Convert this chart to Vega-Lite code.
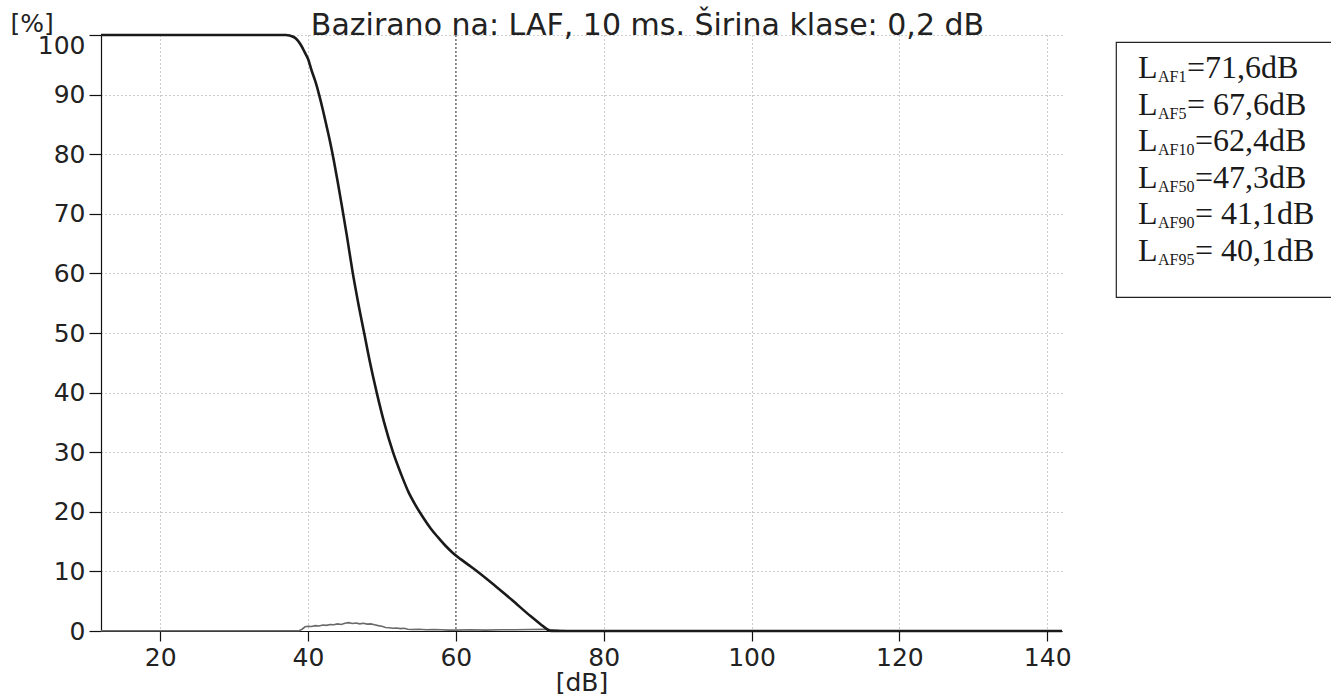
{
  "$schema": "https://vega.github.io/schema/vega-lite/v6.json",
  "padding": {"top": 11, "left": 10, "right": 0, "bottom": 0},
  "background": "white",
  "datasets": {
    "cum": [
      {"dB": 12, "pct": 100}, {"dB": 37, "pct": 100}, {"dB": 38, "pct": 99.7}, {"dB": 38.6, "pct": 99.1},
      {"dB": 39.1, "pct": 98.2}, {"dB": 39.6, "pct": 97}, {"dB": 40.0, "pct": 96}, {"dB": 40.5, "pct": 94},
      {"dB": 41.0, "pct": 92.2}, {"dB": 41.5, "pct": 90}, {"dB": 42.0, "pct": 87.5}, {"dB": 42.5, "pct": 84.8},
      {"dB": 43.0, "pct": 82}, {"dB": 43.5, "pct": 78.9}, {"dB": 44.0, "pct": 75.5}, {"dB": 44.6, "pct": 71.2},
      {"dB": 45.3, "pct": 66}, {"dB": 46.0, "pct": 60.5}, {"dB": 46.8, "pct": 55}, {"dB": 47.6, "pct": 50},
      {"dB": 48.4, "pct": 45}, {"dB": 49.3, "pct": 40}, {"dB": 50.3, "pct": 35}, {"dB": 51.5, "pct": 30},
      {"dB": 52.6, "pct": 26.3}, {"dB": 53.6, "pct": 23.3}, {"dB": 54.6, "pct": 21}, {"dB": 55.6, "pct": 19},
      {"dB": 56.6, "pct": 17.2}, {"dB": 57.6, "pct": 15.7}, {"dB": 58.6, "pct": 14.3}, {"dB": 59.6, "pct": 13.1},
      {"dB": 60.6, "pct": 12.1}, {"dB": 61.7, "pct": 11.1}, {"dB": 63.0, "pct": 9.9}, {"dB": 65.3, "pct": 7.6},
      {"dB": 67.6, "pct": 5.2}, {"dB": 70.1, "pct": 2.5}, {"dB": 71.5, "pct": 1.1}, {"dB": 72.4, "pct": 0.25},
      {"dB": 72.9, "pct": 0}, {"dB": 142, "pct": 0}
    ],
    "dist": [
      {"dB": 12, "pct": 0.05}, {"dB": 38.8, "pct": 0.05}, {"dB": 39.2, "pct": 0.3}, {"dB": 39.6, "pct": 0.7},
      {"dB": 40, "pct": 0.8}, {"dB": 40.5, "pct": 0.75}, {"dB": 41, "pct": 0.9}, {"dB": 41.5, "pct": 0.85},
      {"dB": 42, "pct": 1.0}, {"dB": 42.5, "pct": 0.95}, {"dB": 43, "pct": 1.1}, {"dB": 43.5, "pct": 1.05},
      {"dB": 44, "pct": 1.2}, {"dB": 44.5, "pct": 1.1}, {"dB": 45, "pct": 1.3}, {"dB": 45.5, "pct": 1.4},
      {"dB": 46, "pct": 1.25}, {"dB": 46.5, "pct": 1.35}, {"dB": 47, "pct": 1.2}, {"dB": 47.5, "pct": 1.3},
      {"dB": 48, "pct": 1.15}, {"dB": 48.5, "pct": 1.2}, {"dB": 49, "pct": 1.05}, {"dB": 49.5, "pct": 0.9},
      {"dB": 50, "pct": 0.8}, {"dB": 50.5, "pct": 0.6}, {"dB": 51, "pct": 0.55}, {"dB": 51.5, "pct": 0.45},
      {"dB": 52, "pct": 0.5}, {"dB": 52.5, "pct": 0.4}, {"dB": 53, "pct": 0.45}, {"dB": 53.5, "pct": 0.3},
      {"dB": 54, "pct": 0.25}, {"dB": 55, "pct": 0.3}, {"dB": 56, "pct": 0.2}, {"dB": 57, "pct": 0.25},
      {"dB": 58, "pct": 0.2}, {"dB": 59, "pct": 0.15}, {"dB": 60, "pct": 0.15}, {"dB": 62, "pct": 0.2},
      {"dB": 64, "pct": 0.15}, {"dB": 66, "pct": 0.2}, {"dB": 68, "pct": 0.2}, {"dB": 70, "pct": 0.25},
      {"dB": 72, "pct": 0.3}, {"dB": 73, "pct": 0.2}, {"dB": 74, "pct": 0.1}, {"dB": 75, "pct": 0.05},
      {"dB": 76, "pct": 0}, {"dB": 142, "pct": 0}
    ],
    "mark60": [{"dB": 60}],
    "stats": [
      {"row": 1, "base": "L", "sub": "AF1", "val": "=71,6dB"},
      {"row": 2, "base": "L", "sub": "AF5", "val": "= 67,6dB"},
      {"row": 3, "base": "L", "sub": "AF10", "val": "=62,4dB"},
      {"row": 4, "base": "L", "sub": "AF50", "val": "=47,3dB"},
      {"row": 5, "base": "L", "sub": "AF90", "val": "= 41,1dB"},
      {"row": 6, "base": "L", "sub": "AF95", "val": "= 40,1dB"}
    ]
  },
  "config": {
    "view": {"stroke": null},
    "axis": {
      "domainColor": "#111", "tickColor": "#111", "labelColor": "#222", "titleColor": "#222",
      "labelFont": "DejaVu Sans", "titleFont": "DejaVu Sans", "titleFontWeight": "normal",
      "gridColor": "#999", "gridDash": [1, 3], "gridWidth": 1, "domainWidth": 1.2, "tickWidth": 1.2
    }
  },
  "hconcat": [
    {
      "width": 961,
      "height": 596,
      "title": {"text": "Bazirano na: LAF, 10 ms. Širina klase: 0,2 dB", "font": "DejaVu Sans", "fontSize": 30, "fontWeight": "normal", "color": "#222", "anchor": "middle", "frame": "group", "dx": 66, "offset": -30},
      "layer": [
        {
          "data": {"name": "mark60"},
          "mark": {"type": "rule", "color": "#444", "strokeDash": [2, 2], "strokeWidth": 1},
          "encoding": {"x": {"field": "dB", "type": "quantitative"}}
        },
        {
          "data": {"name": "dist"},
          "mark": {"type": "line", "color": "#6a6a6a", "strokeWidth": 1.6},
          "encoding": {
            "x": {"field": "dB", "type": "quantitative"},
            "y": {"field": "pct", "type": "quantitative"}
          }
        },
        {
          "data": {"name": "cum"},
          "mark": {"type": "line", "color": "#1a1a1a", "strokeWidth": 2.6, "interpolate": "monotone"},
          "encoding": {
            "x": {
              "field": "dB", "type": "quantitative",
              "scale": {"domain": [12, 142], "nice": false, "zero": false},
              "axis": {"title": "[dB]", "values": [20, 40, 60, 80, 100, 120, 140], "tickSize": 10, "labelPadding": 4, "labelFontSize": 25, "titleFontSize": 25, "titlePadding": 0, "grid": true}
            },
            "y": {
              "field": "pct", "type": "quantitative",
              "scale": {"domain": [0, 100], "nice": false},
              "axis": {"title": "[%]", "titleAngle": 0, "titleAlign": "left", "titleBaseline": "alphabetic", "titleX": -91, "titleY": -4, "titleFontSize": 25, "values": [0, 10, 20, 30, 40, 50, 60, 70, 80, 90, 100], "tickSize": 12, "labelPadding": 4, "labelFontSize": 25, "labelOffset": {"expr": "datum.value == 100 ? 10 : 0"}, "grid": true}
            }
          }
        }
      ]
    },
    {
      "vconcat": [
        {
          "width": 10, "height": 1,
          "data": {"values": []},
          "mark": {"type": "point", "opacity": 0}
        },
        {
          "width": 220,
          "height": 255,
          "view": {"stroke": "#222", "strokeWidth": 1.2},
          "data": {"name": "stats"},
          "encoding": {
            "y": {"field": "row", "type": "ordinal", "axis": null, "scale": {"padding": 1.143}}
          },
          "layer": [
            {
              "mark": {"type": "text", "align": "left", "baseline": "alphabetic", "dx": -88, "font": "Liberation Serif", "fontSize": 32, "color": "#1a1a1a"},
              "encoding": {"text": {"field": "base"}}
            },
            {
              "mark": {"type": "text", "align": "left", "baseline": "alphabetic", "dx": -68, "dy": 4, "font": "Liberation Serif", "fontSize": 16, "color": "#1a1a1a"},
              "encoding": {"text": {"field": "sub"}}
            },
            {
              "transform": [{"filter": "length(datum.sub) == 3"}],
              "mark": {"type": "text", "align": "left", "baseline": "alphabetic", "dx": -39, "font": "Liberation Serif", "fontSize": 32, "color": "#1a1a1a"},
              "encoding": {"text": {"field": "val"}}
            },
            {
              "transform": [{"filter": "length(datum.sub) == 4"}],
              "mark": {"type": "text", "align": "left", "baseline": "alphabetic", "dx": -31, "font": "Liberation Serif", "fontSize": 32, "color": "#1a1a1a"},
              "encoding": {"text": {"field": "val"}}
            }
          ]
        }
      ],
      "spacing": 6,
      "bounds": "flush"
    }
  ],
  "spacing": 54,
  "bounds": "flush"
}
